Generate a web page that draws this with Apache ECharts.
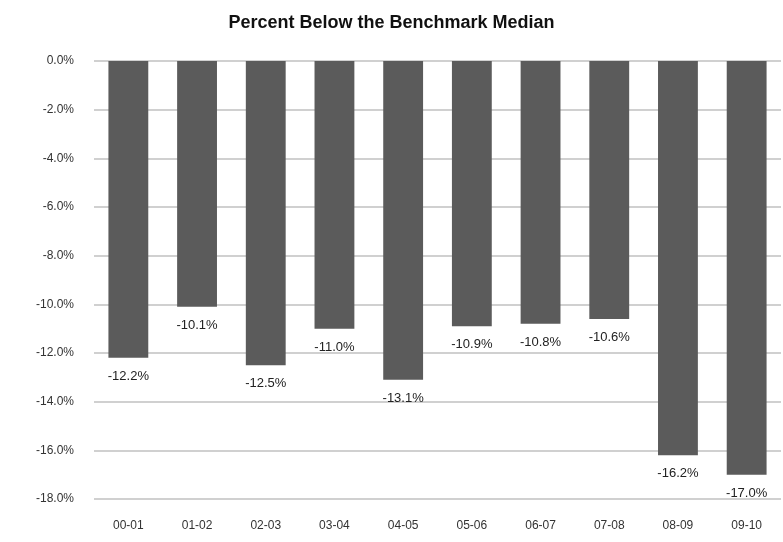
<!DOCTYPE html>
<html lang="en">
<head>
    <meta charset="UTF-8">
    <title>Percent Below the Benchmark Median</title>
    <script src="https://cdn.jsdelivr.net/npm/echarts@6/dist/echarts.min.js"></script>
    <style>
        html, body { margin: 0; padding: 0; background: #fff; }
        #main { width: 783px; height: 542px; }
    </style>
</head>
<body>
<div id="main"></div>
<script>
    // data
    var categories = ['00-01', '01-02', '02-03', '03-04', '04-05', '05-06', '06-07', '07-08', '08-09', '09-10'];
    var values = [-12.2, -10.1, -12.5, -11.0, -13.1, -10.9, -10.8, -10.6, -16.2, -17.0];

    var myChart = echarts.init(document.getElementById('main'));
    var option = {
        animation: false,
        title: {
            text: 'Percent Below the Benchmark Median',
            left: 'center',
            top: 9,
            textStyle: { fontFamily: 'Liberation Sans', fontSize: 18, fontWeight: 'bold', color: '#111' }
        },
        grid: { left: 94, right: 2, top: 61, bottom: 43 },
        xAxis: {
            type: 'category',
            data: categories,
            axisLine: { show: false, onZero: false },
            axisTick: { show: false },
            axisLabel: { margin: 21, fontSize: 12, color: '#333', fontFamily: 'Liberation Sans' }
        },
        yAxis: {
            type: 'value',
            min: -18,
            max: 0,
            interval: 2,
            axisLine: { show: false },
            axisTick: { show: false },
            axisLabel: {
                margin: 20,
                fontSize: 12,
                color: '#333',
                fontFamily: 'Liberation Sans',
                formatter: function (v) { return v.toFixed(1) + '%'; }
            },
            splitLine: { lineStyle: { color: '#c0c0c0', width: 1.5 } }
        },
        series: [{
            type: 'bar',
            data: values,
            barWidth: '58%',
            itemStyle: { color: '#5b5b5b' },
            label: {
                show: true,
                position: 'bottom',
                distance: 12,
                fontSize: 13,
                color: '#222',
                fontFamily: 'Liberation Sans',
                formatter: function (p) { return p.value.toFixed(1) + '%'; }
            }
        }]
    };
    myChart.setOption(option);
</script>
</body>
</html>
